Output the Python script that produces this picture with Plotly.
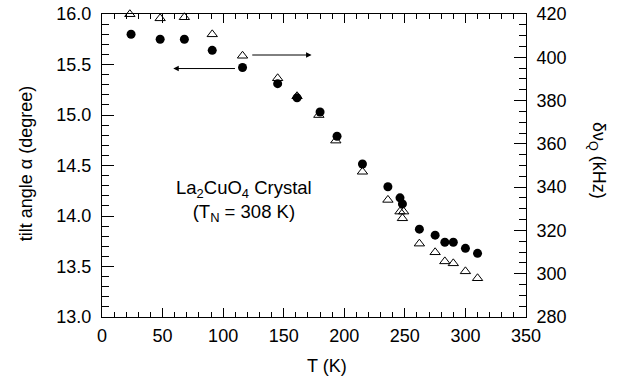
import plotly.graph_objects as go

# Tilt angle (left axis), filled circles
T_alpha = [24, 48, 68, 91, 116, 145, 161, 180, 194, 215, 236, 246, 248, 262, 275, 283, 290, 300, 310]
alpha = [15.80, 15.75, 15.75, 15.64, 15.47, 15.31, 15.17, 15.03, 14.79, 14.515, 14.29, 14.18, 14.12,
         13.87, 13.81, 13.74, 13.74, 13.68, 13.63]

# Quadrupole splitting (right axis), open triangles
T_nu = [23, 48, 68, 91, 116, 145, 161, 179, 193, 215, 236, 246, 249, 248, 262, 275, 283, 290, 300, 310]
dnu = [419.9, 418.0, 418.5, 410.6, 400.7, 390.3, 382.0, 373.3, 361.5, 347.1, 334.1, 328.7, 328.7,
       325.6, 313.9, 309.9, 305.7, 304.8, 301.1, 297.9]

FONT = "Liberation Sans, Arial, sans-serif"

fig = go.Figure()
fig.add_trace(go.Scatter(x=T_alpha, y=alpha, mode="markers", cliponaxis=False,
                         marker=dict(symbol="circle", size=9, color="black"),
                         yaxis="y", showlegend=False))
fig.add_trace(go.Scatter(x=T_nu, y=dnu, mode="markers", cliponaxis=False,
                         marker=dict(symbol="triangle-up-open", size=9, color="black",
                                     line=dict(width=1, color="black")),
                         yaxis="y2", showlegend=False))

axis_common = dict(showgrid=False, zeroline=False, showline=True, linecolor="black",
                   linewidth=1, ticks="inside", tickcolor="black", automargin=False,
                   tickfont=dict(family=FONT, size=18, color="black"))

fig.update_layout(
    width=626, height=378,
    margin=dict(l=102, r=100, t=14, b=61),
    paper_bgcolor="white", plot_bgcolor="white",
    xaxis=dict(range=[0, 350], dtick=50, tick0=0, ticklen=9, mirror="ticks",
               ticklabelstandoff=2,
               minor=dict(dtick=10, ticklen=5, ticks="inside", tickcolor="black"),
               **axis_common),
    yaxis=dict(range=[13, 16], dtick=0.5, tick0=13, ticklen=12, mirror=True,
               tickformat=".1f", ticklabelstandoff=6,
               minor=dict(dtick=0.1, ticklen=7, ticks="inside", tickcolor="black"),
               **axis_common),
    yaxis2=dict(range=[280, 420], dtick=20, tick0=280, ticklen=12, overlaying="y",
                side="right", ticklabelstandoff=6,
                minor=dict(dtick=5, ticklen=7, ticks="inside", tickcolor="black"),
                **axis_common),
)

annotations = [
    dict(text="T (K)", xref="paper", yref="paper", x=0.5295, y=-0.1617,
         xanchor="center", yanchor="middle",
         showarrow=False, font=dict(family=FONT, size=18, color="black")),
    dict(text="tilt angle α (degree)", xref="paper", yref="paper", x=-0.179, y=0.508,
         xanchor="center", yanchor="middle",
         textangle=-90, showarrow=False, font=dict(family=FONT, size=18, color="black")),
    dict(text="δν<sub>Q</sub> (kHz)", xref="paper", yref="paper", x=1.17, y=0.518,
         xanchor="center", yanchor="middle",
         textangle=90, showarrow=False, font=dict(family=FONT, size=18, color="black")),
    dict(text="La<sub>2</sub>CuO<sub>4</sub> Crystal<br>(T<sub>N</sub> = 308 K)",
         xref="x", yref="y", x=117, y=14.15, xanchor="center", yanchor="middle",
         showarrow=False, font=dict(family=FONT, size=18.5, color="black")),
    dict(x=58.8, y=15.46, ax=111, ay=15.46, xref="x", yref="y", axref="x", ayref="y",
         text="", showarrow=True, arrowhead=2, arrowsize=1.1, arrowwidth=1, arrowcolor="black"),
    dict(x=173, y=15.594, ax=122.8, ay=15.594, xref="x", yref="y", axref="x", ayref="y",
         text="", showarrow=True, arrowhead=2, arrowsize=1.1, arrowwidth=1, arrowcolor="black"),
]
fig.update_layout(annotations=annotations)

# remove the browser's default 8px body margin so the figure sits at the page origin
fig.write_html("out.html", config={"displayModeBar": False},
               post_script="document.body.style.margin='0';")
